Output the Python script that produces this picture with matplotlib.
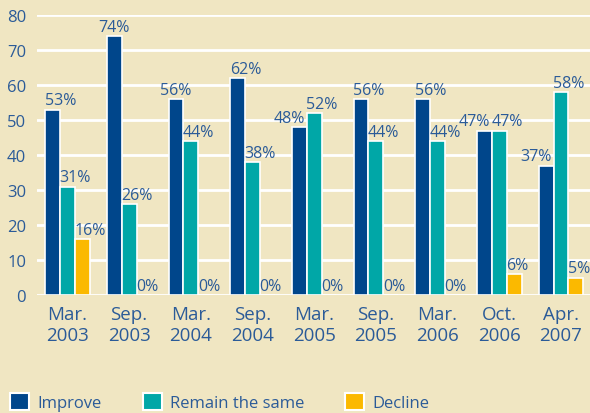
import matplotlib
matplotlib.use("Agg")
import matplotlib.pyplot as plt
import numpy as np

categories = ["Mar.\n2003", "Sep.\n2003", "Mar.\n2004", "Sep.\n2004", "Mar.\n2005",
              "Sep.\n2005", "Mar.\n2006", "Oct.\n2006", "Apr.\n2007"]
improve = [53, 74, 56, 62, 48, 56, 56, 47, 37]
remain = [31, 26, 44, 38, 52, 44, 44, 47, 58]
decline = [16, 0, 0, 0, 0, 0, 0, 6, 5]
series_names = ["Improve", "Remain the same", "Decline"]
yticks = [0, 10, 20, 30, 40, 50, 60, 70, 80]

# label alignment relative to bar (style only)
improve_align = ["left", "center", "center", "left", "right", "left", "left", "right", "right"]
remain_align = ["left"] * 9
decline_align = ["left"] * 9

bg = "#F0E6C2"
colors = ["#00468B", "#00A7A7", "#FBB900"]
txt = "#2B5B98"

plt.rcParams['font.family'] = ['Open Sans', 'DejaVu Sans']
label_family = ['Liberation Sans Narrow', 'Open Sans', 'DejaVu Sans']

fig = plt.figure(figsize=(5.9, 4.14), dpi=100, facecolor=bg)
ax = fig.add_axes([0.063, 0.285, 0.937, 0.676], facecolor=bg)

x = np.arange(len(categories))
w = 0.24
for i, (vals, c, aligns) in enumerate(zip([improve, remain, decline], colors,
                                          [improve_align, remain_align, decline_align])):
    pos = x + (i - 1) * w
    ax.bar(pos, vals, width=w, color=c, edgecolor="white", linewidth=1.2,
           label=series_names[i], zorder=3)
    for p, v, a in zip(pos, vals, aligns):
        if a == "left":
            xy, dx = (p - w / 2, v), -0.3
        elif a == "right":
            xy, dx = (p + w / 2, v), -1.3
        else:
            xy, dx = (p, v), 0
        ax.annotate(f"{v}%", xy=xy, xytext=(dx, 1), textcoords="offset points",
                    ha=a, va="bottom", fontsize=11.5, color=txt, zorder=4,
                    family=label_family)

ax.set_ylim(0, 80)
ax.set_xlim(-0.49, 8.47)
ax.set_yticks(yticks)
ax.set_xticks(x)
ax.set_xticklabels(categories, fontsize=13.5, color=txt, linespacing=1.2)
ax.tick_params(axis="y", labelsize=12, labelcolor=txt, length=0, pad=8)
ax.tick_params(axis="x", length=0, pad=7)
ax.grid(axis="y", color="white", linewidth=2, zorder=0)
ax.set_axisbelow(True)
for s in ax.spines.values():
    s.set_visible(False)

leg = fig.legend(loc="lower left", bbox_to_anchor=(0.0, -0.02), ncol=3, frameon=False,
                 fontsize=12, labelcolor=txt, handlelength=1.15, handleheight=1.15,
                 handletextpad=0.5, columnspacing=2.45, borderaxespad=0.2)
for h in leg.legend_handles:
    h.set_edgecolor("white")
    h.set_linewidth(1.5)

fig.savefig("out.png", dpi=100, facecolor=bg)
